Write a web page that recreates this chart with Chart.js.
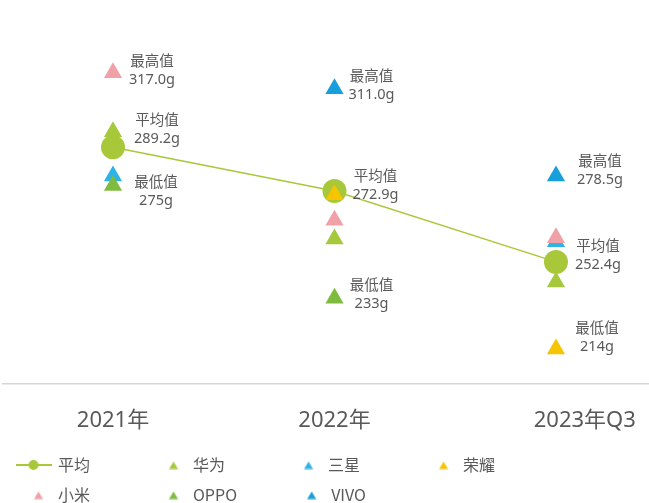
<!DOCTYPE html>
<html>
<head>
<meta charset="utf-8">
<script src="https://cdn.jsdelivr.net/npm/chart.js@4.4.0/dist/chart.umd.min.js"></script>
<style>
  body { margin: 0; overflow: hidden; background: #fff; }
  #wrap { width: 649px; height: 513px; }
</style>
</head>
<body>
<div id="wrap"><canvas id="weightChart"></canvas></div>
<script>
// 年份
const categories = ['2021年', '2022年', '2023年Q3'];

// 平均值（按图中圆点位置读取）
const avgValues = [289.2, 272.9, 246.5];

// 各品牌重量 (g)
const huawei = [295, 255, 239];
const samsung = [278.5, null, 254];
const honor = [null, 271.5, 214];
const xiaomi = [317, 262, 255.5];
const oppo = [275, 233, null];
const vivo = [null, 311, 278.5];

// 标注
const maxValues = [317, 311, 278.5];
const minValues = [275, 233, 214];
const maxText = ['317.0g', '311.0g', '278.5g'];
const avgText = ['289.2g', '272.9g', '252.4g'];
const minText = ['275g', '233g', '214g'];

const GREEN = '#a8c83a';
const TEXT = '#595959';
const FONT = '"Noto Sans", "Noto Sans CJK SC", sans-serif';

// 标注文字相对数据点的偏移
const labelShift = {
    max: { dx: [39, 37, 44], dy: [-1.5, -3, -5.5] },
    avg: { dx: [44, 41, 42], dy: [-17, -5, -6] },
    min: { dx: [43, 37, 41], dy: [6, -3, -11.5] }
};

function toPoints(values) {
    return values.map((v, i) => ({ x: i, y: v }));
}

function triangleSet(label, values, color, order) {
    return {
        label: label,
        data: toPoints(values),
        showLine: false,
        pointStyle: 'triangle',
        pointRadius: 10.5,
        pointBorderWidth: 0,
        backgroundColor: color,
        borderColor: color,
        order: order
    };
}

// 图例小图标（三角形略靠右）
function makeTriangle(color) {
    const c = document.createElement('canvas');
    c.width = 20; c.height = 9;
    const g = c.getContext('2d');
    g.fillStyle = color;
    g.beginPath();
    g.moveTo(15, 1);
    g.lineTo(19.5, 8.5);
    g.lineTo(10.5, 8.5);
    g.closePath();
    g.fill();
    return c;
}

function makeLineMarker(color) {
    const c = document.createElement('canvas');
    c.width = 36; c.height = 12;
    const g = c.getContext('2d');
    g.strokeStyle = color;
    g.lineWidth = 2;
    g.beginPath();
    g.moveTo(0, 6);
    g.lineTo(36, 6);
    g.stroke();
    g.fillStyle = color;
    g.beginPath();
    g.arc(18, 6, 5, 0, Math.PI * 2);
    g.fill();
    return c;
}

// 图例文字补齐宽度，使各列对齐
const legendPad = ['　　　', '　　　', '　　　', '　　　', '　　　', '　　  ', ''];

// 数据标注插件
const valueLabels = {
    id: 'valueLabels',
    afterDatasetsDraw(chart) {
        const ctx = chart.ctx;
        const xs = chart.scales.x;
        const ys = chart.scales.y;
        const groups = [
            { key: 'max', title: '最高值', values: maxValues, text: maxText },
            { key: 'avg', title: '平均值', values: avgValues, text: avgText },
            { key: 'min', title: '最低值', values: minValues, text: minText }
        ];
        ctx.save();
        ctx.font = '14.5px ' + FONT;
        ctx.fillStyle = TEXT;
        ctx.textAlign = 'center';
        ctx.textBaseline = 'middle';
        groups.forEach(grp => {
            grp.values.forEach((v, i) => {
                const x = xs.getPixelForValue(i) + labelShift[grp.key].dx[i];
                const y = ys.getPixelForValue(v) + labelShift[grp.key].dy[i];
                ctx.fillText(grp.title, x, y - 9);
                ctx.fillText(grp.text[i], x, y + 9);
            });
        });
        ctx.restore();
    }
};

const ctx = document.getElementById('weightChart').getContext('2d');
new Chart(ctx, {
    type: 'line',
    data: {
        datasets: [
            {
                label: '平均',
                data: toPoints(avgValues),
                borderColor: GREEN,
                borderWidth: 1.5,
                backgroundColor: GREEN,
                pointRadius: 12,
                pointBorderWidth: 0,
                pointBackgroundColor: GREEN,
                order: 2
            },
            triangleSet('华为', huawei, '#a6c83b', 3),
            triangleSet('三星', samsung, '#2db3e6', 3),
            triangleSet('荣耀', honor, '#f7c400', 0),
            triangleSet('小米', xiaomi, '#f0a1a7', 1),
            triangleSet('OPPO', oppo, '#7fbb3f', 1),
            triangleSet('VIVO', vivo, '#169fdb', 3)
        ]
    },
    options: {
        responsive: true,
        maintainAspectRatio: false,
        animation: false,
        events: [],
        layout: { autoPadding: false, padding: { top: 11, left: 3, right: 0, bottom: 0 } },
        scales: {
            x: {
                type: 'linear',
                min: -0.4966,
                max: 2.42,
                grid: { display: false, drawTicks: false },
                border: { display: true, color: '#d6d6d6', width: 1.5 },
                afterBuildTicks(scale) {
                    scale.ticks = [0, 1, 2.13].map(v => ({ value: v }));
                },
                afterFit(scale) {
                    scale.height = 59;
                    scale.paddingLeft = 0;
                    scale.paddingRight = 0;
                },
                ticks: {
                    padding: 0,
                    color: TEXT,
                    font: { size: 22, family: FONT, lineHeight: '74px' },
                    autoSkip: false,
                    maxRotation: 0,
                    callback: (value, index) => categories[index]
                }
            },
            y: {
                display: false,
                min: 201,
                max: 340
            }
        },
        plugins: {
            tooltip: { enabled: false },
            legend: {
                position: 'bottom',
                align: 'start',
                labels: {
                    usePointStyle: true,
                    pointStyleWidth: 33,
                    padding: 14,
                    color: TEXT,
                    font: { size: 16, family: '"Noto Sans CJK SC", sans-serif' },
                    generateLabels(chart) {
                        return chart.data.datasets.map((ds, i) => ({
                            text: ds.label + legendPad[i],
                            fillStyle: ds.backgroundColor,
                            strokeStyle: ds.backgroundColor,
                            lineWidth: 0,
                            hidden: false,
                            datasetIndex: i,
                            fontColor: TEXT,
                            pointStyle: i === 0 ? makeLineMarker(GREEN) : makeTriangle(ds.backgroundColor)
                        }));
                    }
                }
            }
        }
    },
    plugins: [valueLabels]
});
</script>
</body>
</html>
